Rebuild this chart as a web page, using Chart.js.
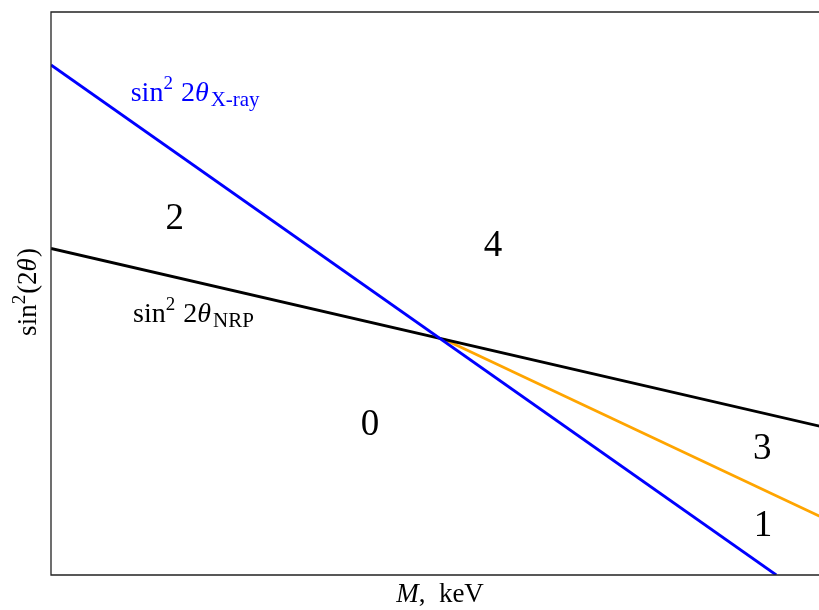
<!DOCTYPE html>
<html>
<head>
<meta charset="utf-8">
<script src="https://cdn.jsdelivr.net/npm/chart.js@4.4.1/dist/chart.umd.min.js"></script>
<style>
  html, body { margin: 0; padding: 0; background: white; overflow: hidden; }
  #wrap { width: 819px; height: 610px; overflow: hidden; }
</style>
</head>
<body>
<div id="wrap"><canvas id="chart" width="835" height="610"></canvas></div>
<script>
// line endpoints in arbitrary units (axes have no ticks)
const xrayX = [0, 9.37];
const xrayY = [9.06, 0];
const nrpX = [0, 10];
const nrpY = [5.80, 2.62];
const edgeX = [5.07, 10];
const edgeY = [4.19, 1.0];

// region numbers
const regionText = ['2', '4', '0', '3', '1'];
const regionX = [1.60, 5.71, 4.12, 9.19, 9.20];
const regionY = [6.31, 5.84, 2.66, 2.24, 0.87];

const serif = '"Liberation Serif", "DejaVu Serif", serif';

function toPoints(xs, ys) {
  return xs.map((x, i) => ({ x: x, y: ys[i] }));
}

// draw a run of text pieces (for super/subscripts) starting at x, baseline y
function drawRich(ctx, parts, x, y, color) {
  ctx.fillStyle = color;
  ctx.textBaseline = 'alphabetic';
  ctx.textAlign = 'left';
  let cx = x;
  parts.forEach(p => {
    ctx.font = (p.italic ? 'italic ' : '') + p.size + 'px ' + serif;
    ctx.fillText(p.t, cx, y + (p.dy || 0));
    cx += ctx.measureText(p.t).width + (p.gap || 0);
  });
  return cx - x;
}

function richWidth(ctx, parts) {
  let w = 0;
  parts.forEach(p => {
    ctx.font = (p.italic ? 'italic ' : '') + p.size + 'px ' + serif;
    w += ctx.measureText(p.t).width + (p.gap || 0);
  });
  return w;
}

const xrayLabel = [
  { t: 'sin', size: 28 },
  { t: '2', size: 19, dy: -12, gap: 8 },
  { t: '2', size: 28 },
  { t: 'θ', size: 28, italic: true, gap: 2 },
  { t: 'X-ray', size: 21, dy: 5 }
];
const nrpLabel = [
  { t: 'sin', size: 28 },
  { t: '2', size: 19, dy: -12, gap: 8 },
  { t: '2', size: 28 },
  { t: 'θ', size: 28, italic: true, gap: 2 },
  { t: 'NRP', size: 21, dy: 5 }
];
const yTitle = [
  { t: 'sin', size: 27 },
  { t: '2', size: 19, dy: -11, gap: 1 },
  { t: '(2', size: 27 },
  { t: 'θ', size: 27, italic: true, gap: 1 },
  { t: ')', size: 27 }
];
const xTitle = [
  { t: 'M', size: 27, italic: true },
  { t: ',  keV', size: 27 }
];

const textPlugin = {
  id: 'textPlugin',
  afterDraw(chart) {
    const ctx = chart.ctx;
    const a = chart.chartArea;
    const xs = chart.scales.x;
    const ys = chart.scales.y;
    ctx.save();

    // frame
    ctx.strokeStyle = '#222';
    ctx.lineWidth = 1.3;
    ctx.beginPath();
    ctx.moveTo(a.right, a.top);
    ctx.lineTo(a.left, a.top);
    ctx.lineTo(a.left, a.bottom);
    ctx.lineTo(a.right, a.bottom);
    ctx.stroke();

    // line labels
    drawRich(ctx, xrayLabel, xs.getPixelForValue(1.03), ys.getPixelForValue(8.42), '#0000ff');
    drawRich(ctx, nrpLabel, xs.getPixelForValue(1.06), ys.getPixelForValue(4.50), '#000');

    // region numbers
    ctx.fillStyle = '#000';
    ctx.font = '37px ' + serif;
    ctx.textAlign = 'center';
    ctx.textBaseline = 'middle';
    regionText.forEach((t, i) => {
      ctx.fillText(t, xs.getPixelForValue(regionX[i]), ys.getPixelForValue(regionY[i]));
    });

    // axis titles
    const xw = richWidth(ctx, xTitle);
    drawRich(ctx, xTitle, 440 - xw / 2, 602, '#000');

    const yw = richWidth(ctx, yTitle);
    ctx.translate(36, 292);
    ctx.rotate(-Math.PI / 2);
    drawRich(ctx, yTitle, -yw / 2, 0, '#000');

    ctx.restore();
  }
};

new Chart(document.getElementById('chart').getContext('2d'), {
  type: 'line',
  data: {
    datasets: [
      {
        label: 'X-ray',
        data: toPoints(xrayX, xrayY),
        borderColor: '#0000ff',
        borderWidth: 2.8,
        pointRadius: 0
      },
      {
        label: 'NRP',
        data: toPoints(nrpX, nrpY),
        borderColor: '#000000',
        borderWidth: 2.8,
        pointRadius: 0
      },
      {
        label: 'edge',
        data: toPoints(edgeX, edgeY),
        borderColor: '#ffa500',
        borderWidth: 2.8,
        pointRadius: 0
      }
    ]
  },
  options: {
    responsive: false,
    animation: false,
    layout: { padding: { left: 51, top: 12, right: 10, bottom: 35 } },
    plugins: {
      legend: { display: false },
      tooltip: { enabled: false }
    },
    scales: {
      x: { type: 'linear', min: 0, max: 10, display: false },
      y: { type: 'linear', min: 0, max: 10, display: false }
    }
  },
  plugins: [textPlugin]
});
</script>
</body>
</html>
